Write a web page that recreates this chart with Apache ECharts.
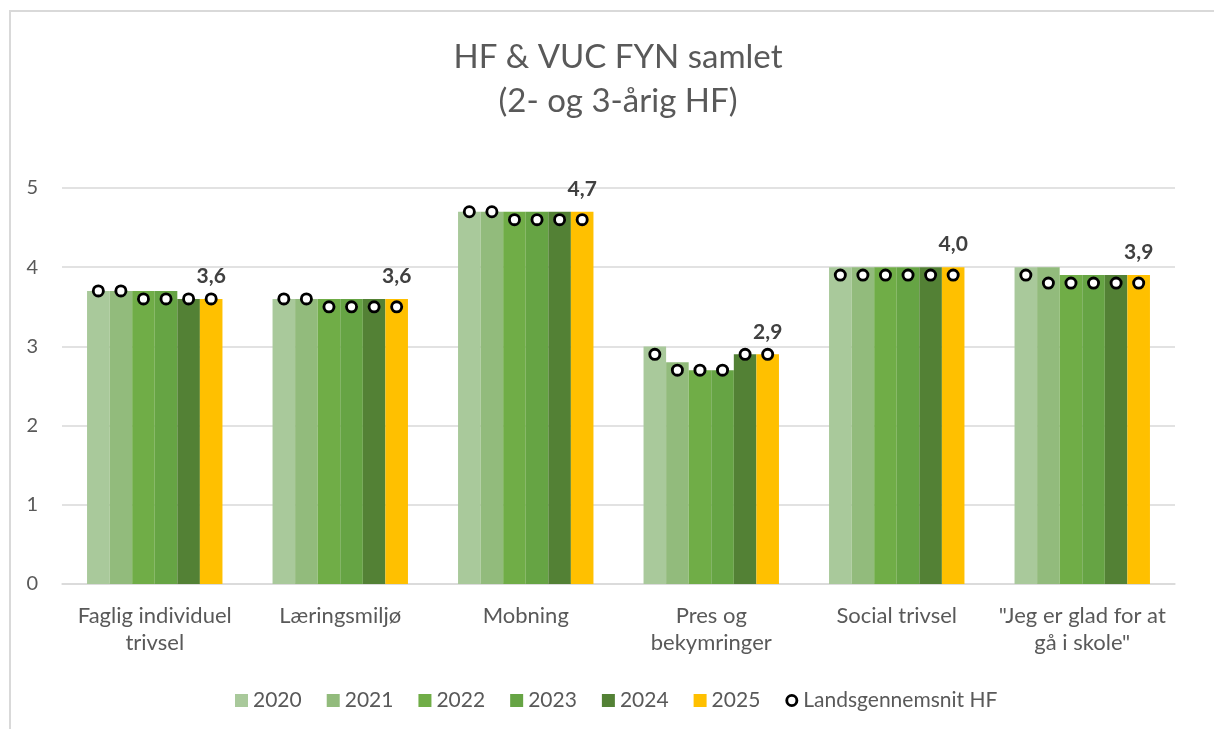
<!DOCTYPE html>
<html><head><meta charset="utf-8">
<script src="https://cdn.jsdelivr.net/npm/echarts@6/dist/echarts.min.js"></script>
<style>
html,body{margin:0;padding:0;background:#fff;}
#frame{position:absolute;left:9px;top:10px;width:1220px;height:730px;border:2px solid #d9d9d9;box-sizing:border-box;}
#chart{position:absolute;left:0;top:0;width:1214px;height:729px;}
</style></head>
<body>
<div id="frame"></div>
<div id="chart"></div>
<script>
const categories = ['Faglig individuel\ntrivsel', 'Læringsmiljø', 'Mobning', 'Pres og\nbekymringer', 'Social trivsel', '"Jeg er glad for at\ngå i skole"'];
const years = ['2020', '2021', '2022', '2023', '2024', '2025'];
const v2020 = [3.7, 3.6, 4.7, 3.0, 4.0, 4.0];
const v2021 = [3.7, 3.6, 4.7, 2.8, 4.0, 4.0];
const v2022 = [3.7, 3.6, 4.7, 2.7, 4.0, 3.9];
const v2023 = [3.7, 3.6, 4.7, 2.7, 4.0, 3.9];
const v2024 = [3.6, 3.6, 4.7, 2.9, 4.0, 3.9];
const v2025 = [3.6, 3.6, 4.7, 2.9, 4.0, 3.9];
const avg2020 = [3.7, 3.6, 4.7, 2.9, 3.9, 3.9];
const avg2021 = [3.7, 3.6, 4.7, 2.7, 3.9, 3.8];
const avg2022 = [3.6, 3.5, 4.6, 2.7, 3.9, 3.8];
const avg2023 = [3.6, 3.5, 4.6, 2.7, 3.9, 3.8];
const avg2024 = [3.6, 3.5, 4.6, 2.9, 3.9, 3.8];
const avg2025 = [3.6, 3.5, 4.6, 2.9, 3.9, 3.8];
const avgName = 'Landsgennemsnit HF';
const yTicks = [0, 1, 2, 3, 4, 5];

const barValues = [v2020, v2021, v2022, v2023, v2024, v2025];
const avgValues = [avg2020, avg2021, avg2022, avg2023, avg2024, avg2025];
const colors = ['#a9c99b', '#92bb7c', '#70ad47', '#66a444', '#538135', '#ffc000'];
const FONT = 'Lato, "Liberation Sans", sans-serif';
const GAP = '27%';
const RING = 'path://M10,0 A10,10 0 1,1 -10,0 A10,10 0 1,1 10,0 Z M5.6,0 A5.6,5.6 0 1,0 -5.6,0 A5.6,5.6 0 1,0 5.6,0 Z';

const series = [];
barValues.forEach((vals, i) => {
  series.push({
    name: years[i], type: 'bar', data: vals, xAxisIndex: 0,
    barGap: '0%', barCategoryGap: GAP,
    itemStyle: { color: colors[i] },
    z: 2,
    label: i === 5 ? {
      show: true, position: 'top', distance: 12,
      fontFamily: FONT, fontSize: 21, fontWeight: 'bold', color: '#404040',
      formatter: p => p.value.toFixed(1).replace('.', ',')
    } : { show: false }
  });
});
avgValues.forEach((vals, i) => {
  // white fill of the marker (on the hidden twin axis so it lays out like the rings)
  series.push({
    name: avgName, type: 'pictorialBar', data: vals, xAxisIndex: 1,
    barGap: '0%', barCategoryGap: GAP,
    symbol: 'circle', symbolSize: [12, 12], symbolPosition: 'end',
    symbolOffset: [0, '-50%'],
    itemStyle: { color: '#ffffff' },
    z: 5
  });
  // black ring of the marker
  series.push({
    name: avgName, type: 'pictorialBar', data: vals, xAxisIndex: 0,
    barGap: '0%', barCategoryGap: GAP,
    symbol: RING, symbolSize: [13, 13], symbolPosition: 'end',
    symbolOffset: [0, '-50%'],
    itemStyle: { color: '#000000' },
    z: 6
  });
});

const chart = echarts.init(document.getElementById('chart'), null, { renderer: 'canvas' });
chart.setOption({
  animation: false,
  backgroundColor: 'transparent',
  textStyle: { fontFamily: FONT },
  title: {
    text: 'HF & VUC FYN samlet\n(2- og 3-årig HF)',
    left: 613, top: 30,
    textAlign: 'center',
    textStyle: { fontFamily: FONT, fontSize: 33, fontWeight: 'normal', color: '#595959', lineHeight: 44 }
  },
  legend: {
    top: 685, left: 230,
    itemWidth: 13, itemHeight: 13, itemGap: 25,
    textStyle: { fontFamily: FONT, fontSize: 21, color: '#595959' },
    data: years.map((y, i) => ({ name: y, icon: 'rect' })).concat([{
      name: avgName, icon: RING,
      itemStyle: { color: '#000000' }
    }]),
    selectedMode: false
  },
  grid: { left: 62, right: 39, top: 188, bottom: 145, containLabel: false },
  xAxis: [{
    type: 'category', data: categories,
    axisLine: { show: true, lineStyle: { color: '#d9d9d9', width: 1.5 } },
    axisTick: { show: false },
    axisLabel: { fontFamily: FONT, fontSize: 22, color: '#595959', margin: 18, lineHeight: 27, interval: 0 }
  }, {
    type: 'category', data: categories, position: 'bottom', show: false
  }],
  yAxis: {
    type: 'value', min: yTicks[0], max: yTicks[yTicks.length - 1], interval: 1,
    axisLine: { show: false }, axisTick: { show: false },
    splitLine: { lineStyle: { color: '#d9d9d9', width: 1.5 } },
    axisLabel: { fontFamily: FONT, fontSize: 20, color: '#595959', margin: 24 }
  },
  series: series
});
</script>
</body></html>
